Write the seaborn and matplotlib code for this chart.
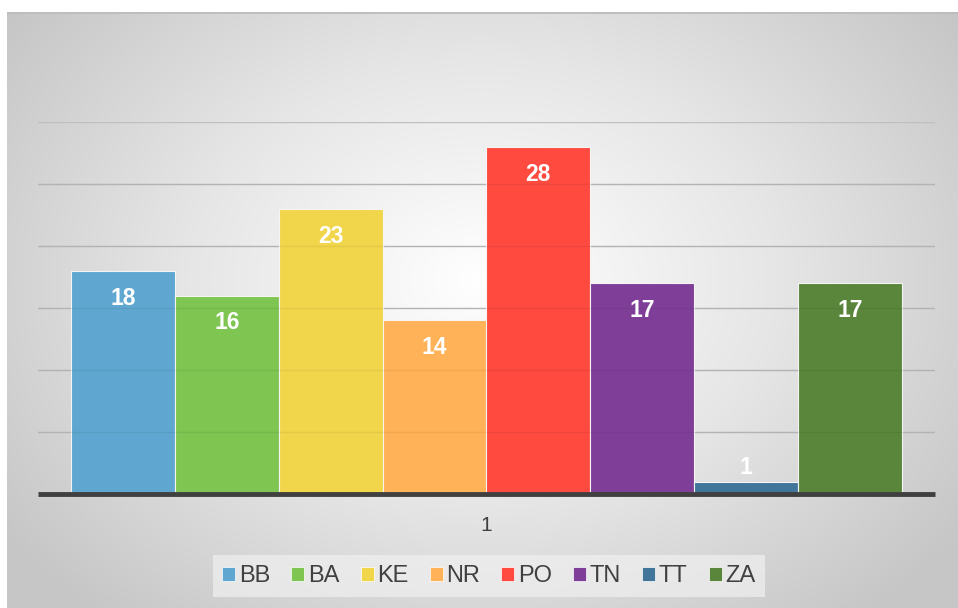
import numpy as np
import pandas as pd
import seaborn as sns
import matplotlib.pyplot as plt
from matplotlib.patches import Patch
from matplotlib.colors import LinearSegmentedColormap

# Datos del gráfico
series = ["BB", "BA", "KE", "NR", "PO", "TN", "TT", "ZA"]
valores = [18, 16, 23, 14, 28, 17, 1, 17]
categoria = "1"
colores = ["#5FA7D0", "#7EC552", "#F1D64B", "#FFB257", "#FF4A40",
           "#7F3F98", "#41769A", "#5A863C"]

df = pd.DataFrame({"Categoria": [categoria] * len(series),
                   "Serie": series, "Valor": valores})

sns.set_style("white")
plt.rcParams["font.family"] = ["Liberation Sans", "DejaVu Sans"]

fig = plt.figure(figsize=(9.58, 6.08), dpi=100)

# Fondo con degradado radial
bg = fig.add_axes([7 / 958, 0, 951 / 958, 596 / 608])
bg.set_axis_off()
yy, xx = np.mgrid[0:1:300j, 0:1:500j]
dist = np.sqrt(((xx - 0.5) / 0.62) ** 2 + ((yy - 0.55) / 0.75) ** 2)
cmap = LinearSegmentedColormap.from_list("fondo", ["#FFFFFF", "#E6E6E6", "#C6C6C6"])
bg.imshow(np.clip(dist, 0, 1), cmap=cmap, vmin=0, vmax=1, aspect="auto",
          extent=[0, 1, 0, 1], origin="lower")
bg.axhline(1, color="#BDBDBD", lw=2)

# Gráfico de barras
ax = fig.add_axes([38 / 958, 1 - 494 / 608, 897 / 958, 372 / 608])
ax.set_facecolor("none")
sns.barplot(data=df, x="Categoria", y="Valor", hue="Serie", palette=colores,
            width=0.926, edgecolor="#F4F4F4", linewidth=0.8, legend=False,
            saturation=1, ax=ax)
ax.set_xlim(-0.5, 0.5)
ax.set_ylim(0, 30)
ax.set_yticks(range(0, 31, 5))
ax.set_yticklabels([])
ax.yaxis.grid(True, color="#BFBFBF", lw=1)
ax.set_axisbelow(True)
# líneas de cuadrícula que se transparentan a través de las barras
for y in range(5, 30, 5):
    ax.axhline(y, color="black", alpha=0.06, lw=1, zorder=3)
ax.tick_params(axis="both", length=0)
ax.tick_params(axis="x", labelsize=15, labelcolor="#404040", pad=16)
ax.set_xlabel("")
ax.set_ylabel("")
for lado in ["top", "left", "right"]:
    ax.spines[lado].set_visible(False)
ax.spines["bottom"].set_color("#404040")
ax.spines["bottom"].set_linewidth(3.5)
ax.spines["bottom"].set_capstyle("butt")

# Etiquetas de datos
barras = sorted(ax.patches, key=lambda p: p.get_x())
for p, v in zip(barras, valores):
    ax.text(p.get_x() + p.get_width() / 2, max(v - 2.2, 2.1), str(v),
            ha="center", va="center", color="white", fontsize=16.5,
            fontweight="bold", zorder=4)

# Leyenda
handles = [Patch(facecolor=c, edgecolor="#FFFFFF", lw=0.5) for c in colores]
leg = fig.legend(handles, series, loc="center", bbox_to_anchor=(489 / 958, 1 - 576 / 608),
                 ncol=8, fontsize=17, frameon=True, fancybox=False,
                 handlelength=0.55, handleheight=0.55, handletextpad=0.15,
                 columnspacing=0.9, borderpad=0.42)
leg.get_frame().set_facecolor("#F0F0F0")
leg.get_frame().set_edgecolor("none")
leg.get_frame().set_alpha(0.7)
for t in leg.get_texts():
    t.set_color("#404040")

plt.savefig("out.png", dpi=100)
